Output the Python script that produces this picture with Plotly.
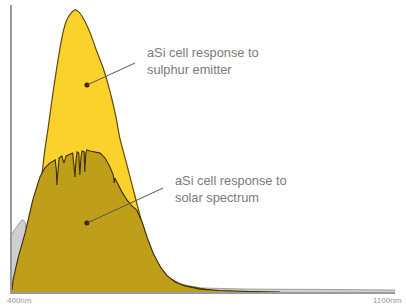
import plotly.graph_objects as go

# wavelength (nm) / relative response values
emitter_nm = [400, 415, 424, 433, 442, 451, 455, 460, 466, 473, 482, 493, 500, 508, 515, 522,
              532, 543, 554, 566, 576, 583, 590, 597, 610, 621, 629, 638, 647, 658, 671, 683,
              694, 713, 731, 762, 798, 853]
emitter_val = [0, 0.017, 0.105, 0.181, 0.268, 0.373, 0.415, 0.495, 0.571, 0.669, 0.784, 0.902,
               0.948, 0.972, 0.983, 0.976, 0.948, 0.902, 0.843, 0.784, 0.721, 0.669, 0.610,
               0.537, 0.443, 0.362, 0.303, 0.237, 0.181, 0.132, 0.087, 0.056, 0.042, 0.024,
               0.017, 0.007, 0.002, 0]

solar_nm = [400, 402, 411, 424, 438, 448, 451, 460, 469, 479, 481, 482, 484, 486, 491, 495, 499,
            502, 508, 511, 513, 515, 517, 519, 522, 524, 526, 528, 532, 533, 535, 537, 543, 552,
            561, 570, 579, 585, 587, 588, 592, 601, 610, 619, 628, 638, 647, 658, 671, 683, 698,
            716, 744, 780, 835, 890]
solar_val = [0.007, 0.042, 0.118, 0.206, 0.321, 0.380, 0.401, 0.432, 0.449, 0.460, 0.425, 0.373,
             0.443, 0.467, 0.474, 0.449, 0.474, 0.477, 0.481, 0.484, 0.443, 0.401, 0.460, 0.488,
             0.484, 0.408, 0.467, 0.491, 0.488, 0.418, 0.484, 0.495, 0.491, 0.488, 0.484, 0.467,
             0.436, 0.408, 0.380, 0.397, 0.380, 0.348, 0.321, 0.300, 0.285, 0.243, 0.190, 0.135,
             0.088, 0.058, 0.035, 0.021, 0.010, 0.005, 0.002, 0]

spectrum_nm = [400, 404, 410, 415, 420, 424, 427, 433, 451, 561, 634, 689, 744, 835, 963, 1100]
spectrum_val = [0.200, 0.215, 0.230, 0.245, 0.252, 0.242, 0.215, 0.200, 0.233, 0.25, 0.18,
                0.035, 0.014, 0.010, 0.009, 0.007]

label_emitter = "aSi cell response to<br>sulphur emitter"
label_solar = "aSi cell response to<br>solar spectrum"
x_labels = ["400nm", "1100nm"]

fig = go.Figure()
fig.add_trace(go.Scatter(x=spectrum_nm, y=spectrum_val, mode="lines", fill="tozeroy",
                         fillcolor="#cfcfd2", line=dict(color="#8a8a8a", width=0.8),
                         hoverinfo="skip"))
fig.add_trace(go.Scatter(x=emitter_nm, y=emitter_val, mode="lines", fill="tozeroy",
                         fillcolor="#fbd12b", line=dict(color="#5e4c08", width=1.2, shape="spline", smoothing=0.6),
                         hoverinfo="skip"))
fig.add_trace(go.Scatter(x=solar_nm, y=solar_val, mode="lines", fill="tozeroy",
                         fillcolor="#bf9f1a", line=dict(color="#3a2e00", width=1.1),
                         hoverinfo="skip"))

# pointer dots
dots_nm = [537, 537]
dots_val = [0.721, 0.24]
fig.add_trace(go.Scatter(x=dots_nm, y=dots_val, mode="markers",
                         marker=dict(color="#4a1a00", size=5), hoverinfo="skip"))

# pointer lines
fig.add_shape(type="line", x0=537, y0=0.721, x1=625, y1=0.798,
              line=dict(color="#555", width=1))
fig.add_shape(type="line", x0=537, y0=0.24, x1=676, y1=0.362,
              line=dict(color="#555", width=1))

fig.add_annotation(x=643, y=0.805, text=label_emitter, showarrow=False, xanchor="left",
                   yanchor="middle", align="left",
                   font=dict(family="Liberation Sans, Arial", size=12.8, color="#7a7a7a"))
fig.add_annotation(x=694, y=0.36, text=label_solar, showarrow=False, xanchor="left",
                   yanchor="middle", align="left",
                   font=dict(family="Liberation Sans, Arial", size=12.8, color="#7a7a7a"))

fig.add_annotation(x=-0.018, y=-0.006, xref="paper", yref="paper", text=x_labels[0],
                   showarrow=False, xanchor="left", yanchor="top",
                   font=dict(family="Liberation Sans, Arial", size=8, color="#999"))
fig.add_annotation(x=1.023, y=-0.006, xref="paper", yref="paper", text=x_labels[1],
                   showarrow=False, xanchor="right", yanchor="top",
                   font=dict(family="Liberation Sans, Arial", size=8, color="#999"))

fig.update_layout(
    width=406, height=306,
    margin=dict(l=12, r=11, t=5, b=14),
    paper_bgcolor="white", plot_bgcolor="white",
    showlegend=False,
    xaxis=dict(range=[400, 1100], showgrid=False, zeroline=False, showticklabels=False,
               ticks="", showline=True, linecolor="#9a9a9a", linewidth=1.5),
    yaxis=dict(range=[0, 1.0], showgrid=False, zeroline=False, showticklabels=False,
               ticks="", showline=True, linecolor="#9a9a9a", linewidth=1.5),
)

fig.write_html("out.html", config={"displayModeBar": False},
               post_script="document.body.style.margin='0';document.body.style.overflow='hidden';")
